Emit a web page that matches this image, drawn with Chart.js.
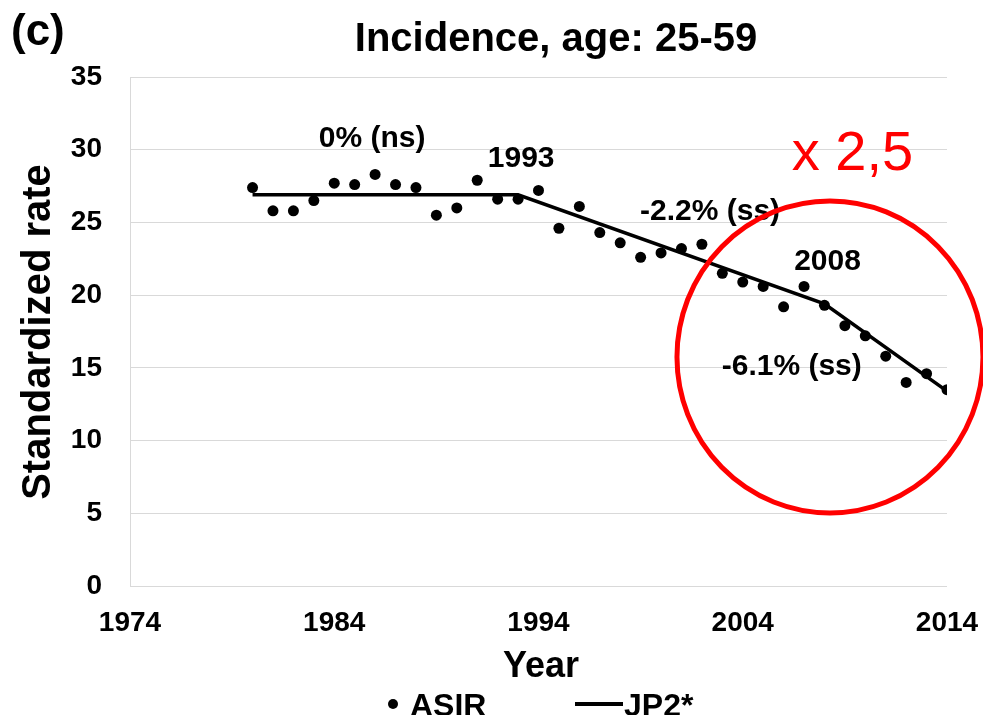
<!DOCTYPE html>
<html>
<head>
<meta charset="utf-8">
<script src="https://cdn.jsdelivr.net/npm/chart.js@4.4.1/dist/chart.umd.min.js"></script>
<style>
  html, body { margin: 0; padding: 0; background: #fff; }
  canvas { display: block; }
</style>
</head>
<body>
<canvas id="incChart" width="983" height="715"></canvas>
<script>
// ---- data ----
const years = [1980, 1981, 1982, 1983, 1984, 1985, 1986, 1987, 1988, 1989,
  1990, 1991, 1992, 1993, 1994, 1995, 1996, 1997, 1998, 1999,
  2000, 2001, 2002, 2003, 2004, 2005, 2006, 2007, 2008, 2009,
  2010, 2011, 2012, 2013, 2014];
const asirRate = [27.4, 25.8, 25.8, 26.5, 27.7, 27.6, 28.3, 27.6, 27.4, 25.5,
  26.0, 27.9, 26.6, 26.6, 27.2, 24.6, 26.1, 24.3, 23.6, 22.6,
  22.9, 23.2, 23.5, 21.5, 20.9, 20.6, 19.2, 20.6, 19.3, 17.9,
  17.2, 15.8, 14.0, 14.6, 13.5];

// joinpoint model (JP2*) break years
const jpYears = [1980, 1993, 2008, 2014];
const jpRate = [26.9, 26.9, 19.4, 13.4];

const xTicks = [1974, 1984, 1994, 2004, 2014];
const yTicks = [0, 5, 10, 15, 20, 25, 30, 35];

// text notes on the plot (anchored in data units)
const noteText = ["0% (ns)", "1993", "-2.2% (ss)", "2008", "-6.1% (ss)"];
const noteYear = [1985.85, 1993.15, 2002.4, 2008.15, 2006.4];
const noteRate = [30.2, 28.8, 25.15, 21.75, 14.5];

const FONT = "'Liberation Sans', Arial, Helvetica, sans-serif";

const overlayPlugin = {
  id: "overlay",
  afterDatasetsDraw(chart) {
    const ctx = chart.ctx;
    const sx = chart.scales.x;
    const sy = chart.scales.y;

    ctx.save();
    ctx.fillStyle = "#000";
    ctx.textAlign = "center";
    ctx.textBaseline = "alphabetic";
    ctx.font = "bold 30px " + FONT;
    noteText.forEach((t, i) => {
      ctx.fillText(t, sx.getPixelForValue(noteYear[i]), sy.getPixelForValue(noteRate[i]));
    });

    // red highlight: "x 2,5" and circle round the last segment
    ctx.fillStyle = "#ff0000";
    ctx.textAlign = "left";
    ctx.font = "56px " + FONT;
    ctx.fillText("x 2,5", sx.getPixelForValue(2006.4), sy.getPixelForValue(28.6));

    ctx.strokeStyle = "#ff0000";
    ctx.lineWidth = 5;
    ctx.beginPath();
    ctx.ellipse(sx.getPixelForValue(2008.27), sy.getPixelForValue(15.75), 153, 156, 0, 0, Math.PI * 2);
    ctx.stroke();
    ctx.restore();
  },
  afterDraw(chart) {
    const ctx = chart.ctx;
    ctx.save();
    ctx.fillStyle = "#000";
    ctx.textBaseline = "alphabetic";

    ctx.textAlign = "left";
    ctx.font = "bold 44px " + FONT;
    ctx.fillText("(c)", 11, 45);

    ctx.textAlign = "center";
    ctx.font = "bold 40px " + FONT;
    ctx.fillText("Incidence, age: 25-59", 556, 51);

    ctx.font = "bold 36px " + FONT;
    ctx.fillText("Year", 541, 677);

    ctx.save();
    ctx.translate(50, 332);
    ctx.rotate(-Math.PI / 2);
    ctx.font = "bold 40px " + FONT;
    ctx.fillText("Standardized rate", 0, 0);
    ctx.restore();

    // legend
    ctx.textAlign = "left";
    ctx.font = "bold 32px " + FONT;
    ctx.beginPath();
    ctx.arc(393, 704, 5, 0, Math.PI * 2);
    ctx.fill();
    ctx.fillText("ASIR", 410, 716);
    ctx.lineWidth = 4;
    ctx.strokeStyle = "#000";
    ctx.beginPath();
    ctx.moveTo(575, 704);
    ctx.lineTo(623, 704);
    ctx.stroke();
    ctx.fillText("JP2*", 624, 716);
    ctx.restore();
  }
};

new Chart(document.getElementById("incChart"), {
  type: "scatter",
  data: {
    datasets: [
      {
        label: "ASIR",
        data: years.map((yr, i) => ({ x: yr, y: asirRate[i] })),
        showLine: false,
        pointRadius: 5.5,
        pointBackgroundColor: "#000",
        pointBorderWidth: 0,
        order: 1
      },
      {
        label: "JP2*",
        data: jpYears.map((yr, i) => ({ x: yr, y: jpRate[i] })),
        showLine: true,
        borderColor: "#000",
        borderWidth: 3.5,
        pointRadius: 0,
        tension: 0,
        order: 2
      }
    ]
  },
  options: {
    responsive: false,
    animation: false,
    layout: { padding: { top: 77, right: 36, left: 0, bottom: 0 } },
    plugins: {
      legend: { display: false },
      tooltip: { enabled: false }
    },
    scales: {
      x: {
        type: "linear",
        min: 1974,
        max: 2014,
        afterBuildTicks(scale) {
          scale.ticks = xTicks.map((v) => ({ value: v }));
        },
        afterFit(scale) {
          scale.height = 129;
          scale.paddingLeft = 0;
          scale.paddingRight = 0;
        },
        grid: { display: false, drawTicks: false },
        border: { display: false },
        ticks: {
          padding: 20,
          color: "#000",
          font: { family: FONT, size: 28, weight: "bold" },
          callback: (v) => String(v)
        }
      },
      y: {
        min: 0,
        max: 35,
        afterBuildTicks(scale) {
          scale.ticks = yTicks.map((v) => ({ value: v }));
        },
        afterFit(scale) {
          scale.width = 130;
          scale.paddingTop = 0;
          scale.paddingBottom = 0;
        },
        grid: { color: "#d9d9d9", lineWidth: 1, drawTicks: false },
        border: { display: true, color: "#d9d9d9", width: 1 },
        ticks: {
          padding: 28,
          color: "#000",
          font: { family: FONT, size: 28, weight: "bold" },
          callback: (v) => String(v)
        }
      }
    }
  },
  plugins: [overlayPlugin]
});
</script>
</body>
</html>
